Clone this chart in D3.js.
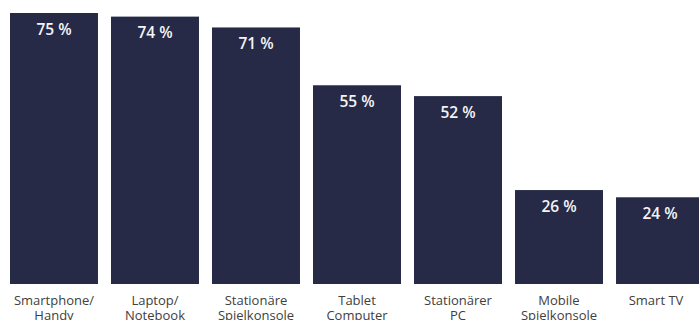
<!DOCTYPE html>
<html>
<head>
<meta charset="utf-8">
<script src="https://cdn.jsdelivr.net/npm/d3@7"></script>
<style>
  body { margin: 0; background: #fff; }
  svg { display: block; }
</style>
</head>
<body>
<div id="container"></div>
<script>
const categories = [
  ["Smartphone/", "Handy"],
  ["Laptop/", "Notebook"],
  ["Stationäre", "Spielkonsole"],
  ["Tablet", "Computer"],
  ["Stationärer", "PC"],
  ["Mobile", "Spielkonsole"],
  ["Smart TV"]
];
const values = [75, 74, 71, 55, 52, 26, 24];

const w = 699;
const h = 320;
const base = 284;

const svg = d3.select("#container")
              .append("svg")
              .attr("width", w)
              .attr("height", h);

const x = d3.scaleBand()
            .domain(d3.range(values.length))
            .range([10, 704])
            .paddingInner(0.129)
            .paddingOuter(0);

const y = d3.scaleLinear()
            .domain([0, 75])
            .range([base, 13]);

const bars = svg.selectAll("g.bar")
                .data(values)
                .enter()
                .append("g")
                .attr("class", "bar");

bars.append("rect")
    .attr("x", (d, i) => x(i))
    .attr("y", d => y(d))
    .attr("width", x.bandwidth())
    .attr("height", d => base - y(d))
    .attr("fill", "#262a46");

bars.append("text")
    .attr("x", (d, i) => x(i) + x.bandwidth() / 2)
    .attr("y", d => y(d) + 21.5)
    .attr("text-anchor", "middle")
    .style("font-family", "'Open Sans', sans-serif")
    .style("font-weight", 600)
    .style("font-size", "15.5px")
    .style("fill", "#f4f4f6")
    .text(d => d + " %");

const labels = svg.selectAll("text.cat")
                  .data(categories)
                  .enter()
                  .append("text")
                  .attr("class", "cat")
                  .attr("text-anchor", "middle")
                  .style("font-family", "'Open Sans', sans-serif")
                  .style("font-size", "13px")
                  .style("fill", "#404040");

labels.selectAll("tspan")
      .data((d, i) => d.map(t => ({ t, i })))
      .enter()
      .append("tspan")
      .attr("x", d => Math.min(x(d.i) + x.bandwidth() / 2, 656))
      .attr("y", (d, j) => 305 + j * 15)
      .text(d => d.t);
</script>
</body>
</html>
